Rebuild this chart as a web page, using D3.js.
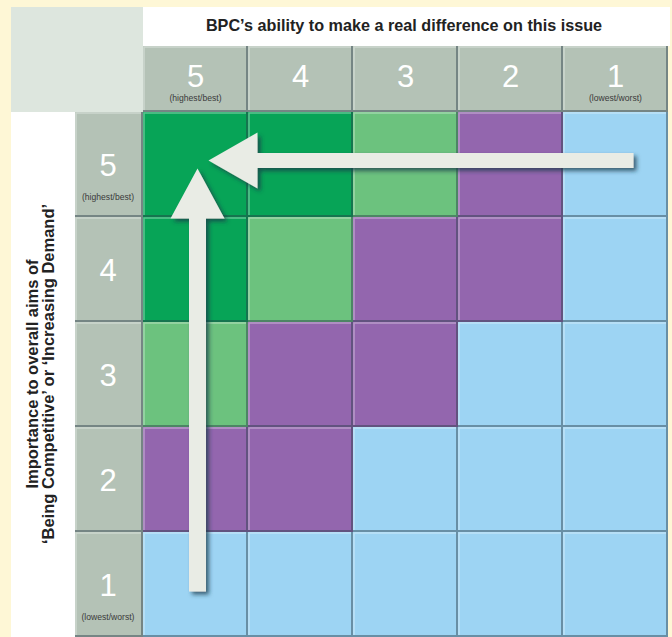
<!DOCTYPE html>
<html>
<head>
<meta charset="UTF-8">
<script src="https://cdn.jsdelivr.net/npm/d3@7"></script>
<style>
  body { margin: 0; background: #fef7d6; }
  svg { display: block; font-family: "Liberation Sans", Arial, Helvetica, sans-serif; }
</style>
</head>
<body>
<svg width="672" height="637"></svg>
<script>
// scores on both axes, best to worst
var abilityScores = [5, 4, 3, 2, 1];
var importanceScores = [5, 4, 3, 2, 1];
var scoreNotes = { 5: "(highest/best)", 1: "(lowest/worst)" };

// priority band per cell, one row per importance score (5..1), columns ability 5..1
var bandRows = [
  ["top", "top", "high", "mid", "low"],
  ["top", "high", "mid", "mid", "low"],
  ["high", "mid", "mid", "low", "low"],
  ["mid", "mid", "low", "low", "low"],
  ["low", "low", "low", "low", "low"]
];
var bandNames = ["top", "high", "mid", "low"];
var bandColours = ["#07a457", "#6cc27e", "#9366ae", "#9dd4f3"];

var titleX = "BPC\u2019s ability to make a real difference on this issue";
var titleY = ["Importance to overall aims of", "\u2018Being Competitive\u2019 or \u2018Increasing Demand\u2019"];

var svg = d3.select("svg");

var x = d3.scaleBand().domain(abilityScores).range([143, 668]);
var y = d3.scaleBand().domain(importanceScores).range([112, 637]);
var colour = d3.scaleOrdinal().domain(bandNames).range(bandColours);

// shadow for the arrows
var defs = svg.append("defs");
var f = defs.append("filter").attr("id", "shadow")
  .attr("x", "-20%").attr("y", "-20%").attr("width", "150%").attr("height", "150%");
f.append("feDropShadow").attr("dx", 3).attr("dy", 3).attr("stdDeviation", 2)
  .attr("flood-color", "#1d3a48").attr("flood-opacity", 0.75);

// background panels
svg.append("rect").attr("x", 11).attr("y", 7).attr("width", 132).attr("height", 105).attr("fill", "#dde6de");
svg.append("rect").attr("x", 143).attr("y", 7).attr("width", 527).attr("height", 39).attr("fill", "#ffffff");
svg.append("rect").attr("x", 11).attr("y", 112).attr("width", 64).attr("height", 525).attr("fill", "#ffffff");

function tile(g, x0, y0, w, h, fill) {
  g.append("rect").attr("x", x0).attr("y", y0).attr("width", w).attr("height", h).attr("fill", fill);
  // light inner edge top/left
  g.append("path")
    .attr("d", "M" + (x0 + 1) + "," + (y0 + h - 2) + "V" + (y0 + 1) + "H" + (x0 + w - 2))
    .attr("fill", "none").attr("stroke", "rgba(255,255,255,0.35)").attr("stroke-width", 1.5);
  // dark edge bottom/right
  g.append("path")
    .attr("d", "M" + x0 + "," + (y0 + h - 1) + "H" + (x0 + w - 1) + "V" + y0)
    .attr("fill", "none").attr("stroke", "rgba(40,60,70,0.45)").attr("stroke-width", 2);
}

// column headers
var head = svg.append("g");
abilityScores.forEach(function (s) {
  tile(head, x(s), 46, x.bandwidth(), 66, "#b4c2b6");
  head.append("text").attr("x", x(s) + x.bandwidth() / 2).attr("y", 87)
    .attr("text-anchor", "middle").attr("fill", "#fff").attr("font-size", 31).text(s);
  if (scoreNotes[s]) head.append("text").attr("x", x(s) + x.bandwidth() / 2).attr("y", 101)
    .attr("text-anchor", "middle").attr("fill", "#3a3a3a").attr("font-size", 8.6).text(scoreNotes[s]);
});

// row headers
var side = svg.append("g");
importanceScores.forEach(function (s) {
  var cy = y(s) + y.bandwidth() / 2;
  tile(side, 75, y(s), 68, y.bandwidth(), "#b4c2b6");
  side.append("text").attr("x", 108).attr("y", cy + 11)
    .attr("text-anchor", "middle").attr("fill", "#fff").attr("font-size", 31).text(s);
  if (scoreNotes[s]) side.append("text").attr("x", 108).attr("y", cy + 35)
    .attr("text-anchor", "middle").attr("fill", "#3a3a3a").attr("font-size", 8.6).text(scoreNotes[s]);
});

// grid cells
var grid = svg.append("g");
bandRows.forEach(function (row, i) {
  row.forEach(function (band, j) {
    tile(grid, x(abilityScores[j]), y(importanceScores[i]), x.bandwidth(), y.bandwidth(), colour(band));
  });
});

// titles
svg.append("text").attr("x", 404).attr("y", 31).attr("text-anchor", "middle")
  .attr("font-size", 16.2).attr("font-weight", "bold").attr("fill", "#222").text(titleX);
svg.selectAll(".ytitle").data(titleY).enter().append("text")
  .attr("class", "ytitle")
  .attr("transform", function (d, i) { return "translate(" + (38 + i * 16) + ",374) rotate(-90)"; })
  .attr("text-anchor", "middle").attr("font-size", 16.5).attr("font-weight", "bold").attr("fill", "#222")
  .text(function (d) { return d; });

// arrows toward the top-left corner
var arrows = svg.append("g").attr("filter", "url(#shadow)").attr("fill", "#e9ece5");
var cx5 = x(5) + x.bandwidth() / 2, cx1 = x(1) + x.bandwidth() / 2;
var cy5 = y(5) + y.bandwidth() / 2, cy1 = y(1) + y.bandwidth() / 2;

// horizontal: from ability 1 to ability 5, along importance 5
var hy = cy5 - 4, hTip = cx5 + 13, hEnd = cx1 + 18;
arrows.append("path").attr("d",
  "M" + hTip + "," + hy +
  "L" + (hTip + 49) + "," + (hy - 28) +
  "V" + (hy - 7.5) + "H" + hEnd + "V" + (hy + 7.5) + "H" + (hTip + 49) +
  "V" + (hy + 28) + "Z");

// vertical: from importance 1 to importance 5, along ability 5
var vx = cx5 + 2, vTip = cy5 + 4, vEnd = cy1 + 7;
arrows.append("path").attr("d",
  "M" + vx + "," + vTip +
  "L" + (vx + 27) + "," + (vTip + 50) +
  "H" + (vx + 8.5) + "V" + vEnd + "H" + (vx - 8.5) + "V" + (vTip + 50) +
  "H" + (vx - 27) + "Z");
</script>
</body>
</html>
